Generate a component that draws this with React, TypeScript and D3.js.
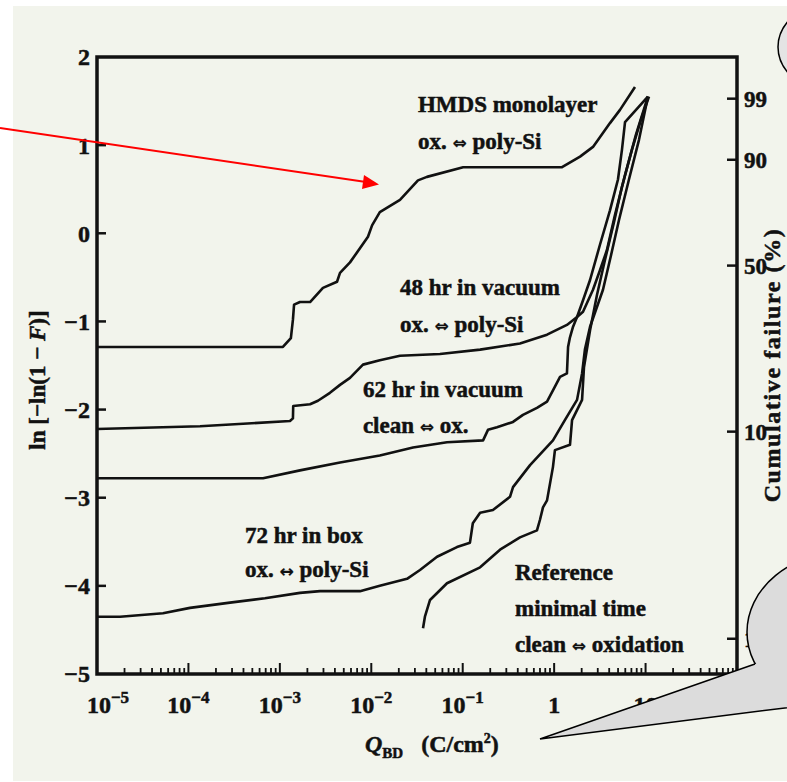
import React from "react";
import * as d3 from "d3";

const W = 787;
const H = 782;

// Each series: [Q_BD (C/cm²), ln(-ln(1 - F))]
const hmdsMonolayer: [number, number][] = [
  [1e-5, -1.29], [1.08e-3, -1.29], [1.32e-3, -1.19], [1.39e-3, -0.98], [1.43e-3, -0.81],
  [1.66e-3, -0.78], [2.14e-3, -0.78], [2.96e-3, -0.62], [4.22e-3, -0.55], [4.55e-3, -0.45],
  [5.85e-3, -0.33], [6.64e-3, -0.25], [9.2e-3, -0.04], [1.02e-2, 0.09], [1.24e-2, 0.24],
  [2.06e-2, 0.38], [3.24e-2, 0.6], [4.06e-2, 0.64], [0.101, 0.75], [1.22, 0.75],
  [1.92, 0.87], [2.66, 0.98], [4.08, 1.25], [5.25, 1.4], [7.66, 1.66],
];

const vacuum48h: [number, number][] = [
  [1e-5, -2.22], [1.34e-4, -2.19], [1.29e-3, -2.13], [1.39e-3, -2.1], [1.4e-3, -1.96],
  [2.14e-3, -1.94], [2.61e-3, -1.9], [3.53e-3, -1.81], [4.55e-3, -1.72], [5.85e-3, -1.64],
  [8.11e-3, -1.49], [1.24e-2, -1.44], [2.06e-2, -1.39], [5.64e-2, -1.37], [0.155, -1.32],
  [0.423, -1.25], [0.836, -1.15], [1.38, -1.04], [1.78, -0.95], [2.07, -0.89],
  [2.66, -0.64], [3.17, -0.42], [3.78, -0.19], [4.63, 0.21], [5.96, 0.66],
  [7.85, 1.12], [10.6, 1.55],
];

const vacuum62h: [number, number][] = [
  [1e-5, -2.78], [6.55e-4, -2.78], [1.66e-3, -2.69], [4.55e-3, -2.6], [1.24e-2, -2.52],
  [2.86e-2, -2.43], [6.73e-2, -2.37], [0.167, -2.35], [0.189, -2.23], [0.237, -2.2],
  [0.355, -2.14], [0.456, -2.06], [0.649, -1.98], [0.836, -1.91], [1.02, -1.74],
  [1.16, -1.63], [1.38, -1.59], [1.42, -1.29], [1.49, -1.18], [1.61, -1.06],
  [1.78, -0.95], [2.07, -0.76], [2.47, -0.53], [3.17, -0.13], [4.08, 0.26],
  [4.99, 0.61], [5.52, 0.95], [5.96, 1.26], [10.6, 1.55],
];

const box72h: [number, number][] = [
  [1e-5, -4.35], [1.79e-5, -4.35], [5.27e-5, -4.31], [1.04e-4, -4.25], [2.85e-4, -4.19],
  [6.87e-4, -4.14], [1.66e-3, -4.08], [2.75e-3, -4.06], [7.52e-3, -4.06], [1.24e-2, -4.0],
  [2.46e-2, -3.92], [3.41e-2, -3.82], [5.24e-2, -3.67], [8.65e-2, -3.56], [0.12, -3.51],
  [0.129, -3.29], [0.155, -3.17], [0.214, -3.14], [0.329, -2.99], [0.355, -2.88],
  [0.545, -2.63], [0.971, -2.35], [1.31, -2.12], [1.78, -1.89], [2.02, -1.59],
  [2.17, -1.32], [2.47, -1.06], [3.42, -0.64], [4.19, -0.25], [5.12, 0.15],
  [6.58, 0.61], [8.47, 1.06], [10.6, 1.55],
];

const referenceMinimal: [number, number][] = [
  [3.68e-2, -4.48], [3.86e-2, -4.35], [4.39e-2, -4.16], [6.73e-2, -3.97], [0.155, -3.79],
  [0.256, -3.59], [0.423, -3.45], [0.649, -3.37], [0.7, -3.25], [0.755, -3.11],
  [0.836, -3.03], [0.971, -2.65], [1.02, -2.46], [1.49, -2.4], [1.57, -2.12],
  [2.02, -1.89], [2.12, -1.52], [2.47, -1.1], [2.94, -0.7], [3.6, -0.3],
  [4.52, 0.13], [5.52, 0.53], [7.1, 0.95], [8.91, 1.29], [10.9, 1.55],
];

const series = [hmdsMonolayer, vacuum48h, vacuum62h, box72h, referenceMinimal];

const yTickValues = [-5, -4, -3, -2, -1, 0, 1, 2];
const xDecadeExponents = [-5, -4, -3, -2, -1, 0, 1, 2];
const failurePercentTicks = [1, 10, 50, 90, 99];

const hmdsLabel = ["HMDS monolayer", "ox. \u21D4 poly-Si"];
const vac48Label = ["48 hr in vacuum", "ox. \u21D4 poly-Si"];
const vac62Label = ["62 hr in vacuum", "clean \u21D4 ox."];
const box72Label = ["72 hr in box", "ox. \u2194 poly-Si"];
const referenceLabel = ["Reference", "minimal time", "clean \u21D4 oxidation"];

const FONT = "'Liberation Serif', 'Times New Roman', 'DejaVu Serif', serif";
const ARROWS = /([\u21D4\u2194])/;

// Renders a label line; double arrows are drawn from a font that carries them
function labelParts(s: string) {
  return s.split(ARROWS).map((part, i) =>
    ARROWS.test(part) ? (
      <tspan key={i} fontFamily="'DejaVu Sans', sans-serif" fontSize={17} strokeWidth={0.2}>
        {part}
      </tspan>
    ) : (
      <tspan key={i}>{part}</tspan>
    )
  );
}

export default function App() {
  const x = d3.scaleLog().domain([1e-5, 1e2]).range([97, 737]);
  const y = d3.scaleLinear().domain([-5, 2]).range([674, 57]);
  const line = d3
    .line<[number, number]>()
    .x((d) => x(d[0]))
    .y((d) => y(d[1]));

  const [x0, x1] = x.range();
  const [yb, yt] = y.range();

  const minorTicks = x.ticks().filter((t) => {
    const m = t / Math.pow(10, Math.floor(Math.log10(t) + 1e-9));
    return Math.abs(m - 1) > 1e-6;
  });

  const weibull = (p: number) => Math.log(-Math.log(1 - p / 100));

  const textBlock = (lines: string[], q: number, v: number, gap: number) =>
    lines.map((s, i) => (
      <text
        key={s + i}
        x={x(q)}
        y={y(v) + i * gap}
        fontFamily={FONT}
        fontWeight="bold"
        fontSize={23}
        fill="#111"
        stroke="#111"
        strokeWidth={0.5}
      >
        {labelParts(s)}
      </text>
    ));

  return (
    <svg
      width={W}
      height={H}
      style={{ position: "absolute", left: 0, top: 0, background: "#ffffff" }}
    >
      <rect x={13} y={6} width={W - 13} height={775} fill="#f2f4ec" />

      {/* frame */}
      <rect
        x={x0}
        y={yt}
        width={x1 - x0}
        height={yb - yt}
        fill="none"
        stroke="#111"
        strokeWidth={3.5}
      />

      {/* left axis ticks and labels */}
      {yTickValues.map((v) => (
        <g key={"yl" + v}>
          {v > -5 && v < 2 && (
            <line x1={x0} x2={x0 + 9} y1={y(v)} y2={y(v)} stroke="#111" strokeWidth={2.5} />
          )}
          <text
            x={90}
            y={y(v)}
            dy="0.35em"
            textAnchor="end"
            fontFamily={FONT}
            fontWeight="bold"
            fontSize={24}
            fill="#111"
            stroke="#111"
            strokeWidth={0.5}
          >
            {v < 0 ? "\u2212" + Math.abs(v) : String(v)}
          </text>
        </g>
      ))}

      {/* right axis: cumulative failure */}
      {failurePercentTicks.map((p) => (
        <g key={"yr" + p}>
          <line
            x1={x1 - 10}
            x2={x1}
            y1={y(weibull(p))}
            y2={y(weibull(p))}
            stroke="#111"
            strokeWidth={2.5}
          />
          <text
            x={744}
            y={y(weibull(p))}
            dy="0.35em"
            fontFamily={FONT}
            fontWeight="bold"
            fontSize={23}
            fill="#111"
            stroke="#111"
            strokeWidth={0.5}
          >
            {p}
          </text>
        </g>
      ))}

      {/* bottom axis ticks */}
      {xDecadeExponents
        .filter((e) => e > -5 && e < 2)
        .map((e) => (
          <line
            key={"xM" + e}
            x1={x(Math.pow(10, e))}
            x2={x(Math.pow(10, e))}
            y1={yb}
            y2={yb - 11}
            stroke="#111"
            strokeWidth={2}
          />
        ))}
      {minorTicks.map((t, i) => (
        <line
          key={"xm" + i}
          x1={x(t)}
          x2={x(t)}
          y1={yb}
          y2={yb - 6}
          stroke="#111"
          strokeWidth={1.8}
        />
      ))}
      {xDecadeExponents.map((e) => (
        <text
          key={"xl" + e}
          x={x(Math.pow(10, e)) + (e === -5 ? 11 : 0)}
          y={713}
          textAnchor="middle"
          fontFamily={FONT}
          fontWeight="bold"
          fontSize={24}
          fill="#111"
          stroke="#111"
          strokeWidth={0.5}
        >
          {e === 0 ? (
            "1"
          ) : e === 1 ? (
            "10"
          ) : (
            <>
              <tspan>10</tspan>
              <tspan dy={-10} fontSize={17}>
                {e < 0 ? "\u2212" + Math.abs(e) : String(e)}
              </tspan>
            </>
          )}
        </text>
      ))}

      {/* data curves */}
      {series.map((s, i) => (
        <path
          key={"s" + i}
          d={line(s) || ""}
          fill="none"
          stroke="#111"
          strokeWidth={2.6}
          strokeLinejoin="round"
        />
      ))}

      {/* curve annotations */}
      {textBlock(hmdsLabel, 3.24e-2, 1.38, 37)}
      {textBlock(vac48Label, 2.06e-2, -0.7, 37)}
      {textBlock(vac62Label, 8.1e-3, -1.86, 36)}
      {textBlock(box72Label, 4.16e-4, -3.51, 34)}
      {textBlock(referenceLabel, 0.373, -3.93, 36)}

      {/* axis titles */}
      <text
        transform="translate(45,380) rotate(-90)"
        textAnchor="middle"
        fontFamily={FONT}
        fontWeight="bold"
        fontSize={23}
        fill="#111"
        stroke="#111"
        strokeWidth={0.5}
      >
        <tspan>ln [</tspan>
        <tspan>{"\u2212ln(1 \u2212 "}</tspan>
        <tspan fontStyle="italic">F</tspan>
        <tspan>)]</tspan>
      </text>
      <text
        x={365}
        y={752}
        fontFamily={FONT}
        fontWeight="bold"
        fontSize={24}
        fill="#111"
        stroke="#111"
        strokeWidth={0.5}
      >
        <tspan fontStyle="italic">Q</tspan>
        <tspan dy={6} fontSize={15}>BD</tspan>
        <tspan dy={-6} dx={18}>(C/cm</tspan>
        <tspan dy={-9} fontSize={14}>2</tspan>
        <tspan dy={9}>)</tspan>
      </text>
      <text
        transform="translate(780,365) rotate(-90)"
        textAnchor="middle"
        fontFamily={FONT}
        fontWeight="bold"
        fontSize={24}
        letterSpacing={1.6}
        fill="#111"
        stroke="#111"
        strokeWidth={0.5}
      >
        Cumulative failure (%)
      </text>

      {/* pointer arrow */}
      <line x1={0} y1={128} x2={366} y2={182} stroke="#ff0000" strokeWidth={2} />
      <polygon points="364,175 379,184.5 362,189" fill="#ff0000" />

      {/* speech bubbles */}
      <ellipse cx={850} cy={47} rx={72} ry={50} fill="#e4e4e4" stroke="#000" strokeWidth={1.5} />
      <ellipse cx={845} cy={632} rx={98} ry={80} fill="#dcdcdc" stroke="#000" strokeWidth={1.5} />
      <polygon points="755,664 540,739 800,706 800,664" fill="#dcdcdc" />
      <polyline points="755,664 540,739 800,706" fill="none" stroke="#000" strokeWidth={1.5} />
    </svg>
  );
}
